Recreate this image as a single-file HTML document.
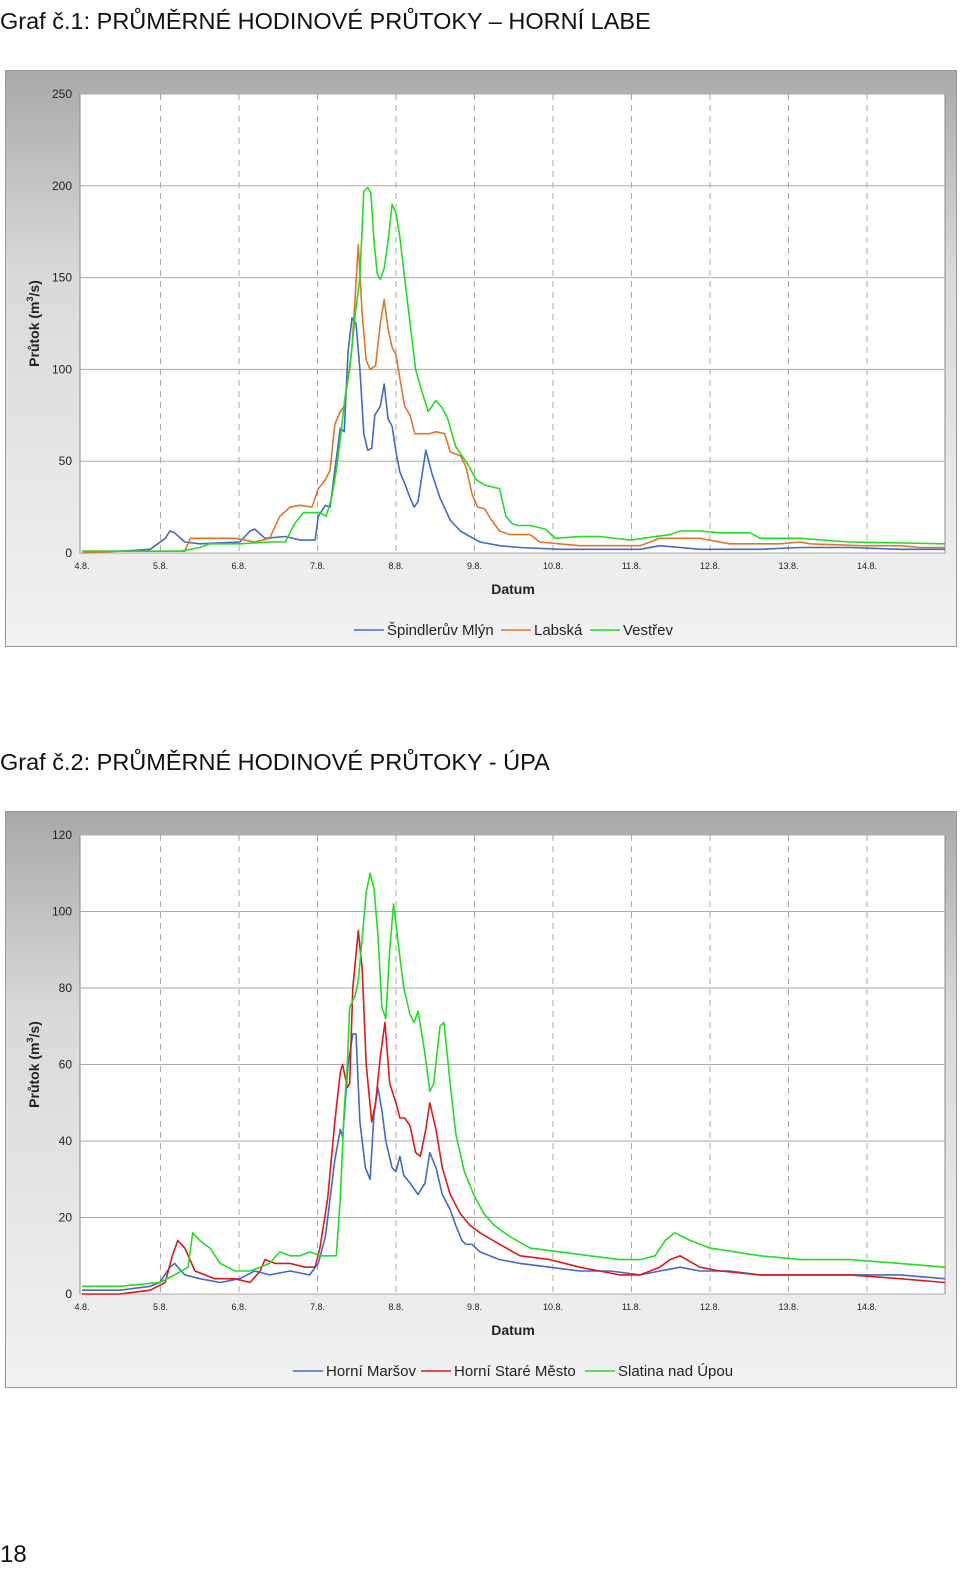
<!DOCTYPE html>
<html><head><meta charset="utf-8"><style>
body{margin:0;background:#fff;width:960px;height:1565px;overflow:hidden;font-family:"Liberation Sans",sans-serif}
</style></head><body>
<svg id="svg" width="960" height="1565" xmlns="http://www.w3.org/2000/svg">
<defs>
<linearGradient id="bg" x1="0" y1="0" x2="0" y2="1"><stop offset="0" stop-color="#a9a9a9"/><stop offset="0.35" stop-color="#d9d9d9"/><stop offset="1" stop-color="#f2f2f2"/></linearGradient>
</defs>
<text x="0" y="29" font-size="23.5" fill="#111">Graf č.1: PRŮMĚRNÉ HODINOVÉ PRŮTOKY – HORNÍ LABE</text>
<text x="0" y="770" font-size="23.5" fill="#111">Graf č.2: PRŮMĚRNÉ HODINOVÉ PRŮTOKY - ÚPA</text>
<text x="0" y="1562" font-size="24" fill="#111">18</text>
<g id="c1"></g>
<g id="c2"></g>
</svg>
<script>
const dayLabels=["4.8.","5.8.","6.8.","7.8.","8.8.","9.8.","10.8.","11.8.","12.8.","13.8.","14.8."];
const ticks1=[0,50,100,150,200,250];
const ticks2=[0,20,40,60,80,100,120];
// chart 1 series: days since 4.8. and flow values
const spDays=[0,0.48,0.87,1.06,1.12,1.18,1.31,1.5,2.01,2.14,2.2,2.33,2.59,2.78,2.97,3.01,3.1,3.16,3.22,3.29,3.34,3.39,3.44,3.49,3.54,3.59,3.64,3.69,3.73,3.8,3.85,3.9,3.95,4.0,4.05,4.11,4.18,4.23,4.28,4.38,4.46,4.56,4.69,4.82,4.94,5.07,5.32,5.58,6.09,7.11,7.36,7.62,7.87,8.64,9.15,9.78,10.42,10.99];
const spVals=[1,1,2,8,12,11,6,5,6,12,13,8,9,7,7,20,26,25,45,68,66,110,128,125,100,65,56,57,75,80,92,73,69,55,44,38,30,25,28,56,43,30,18,12,9,6,4,3,2,2,4,3,2,2,3,3,2,2];
const laDays=[0,0.48,1.31,1.38,1.95,2.2,2.39,2.52,2.65,2.78,2.93,3.01,3.1,3.16,3.22,3.29,3.34,3.39,3.44,3.48,3.52,3.57,3.62,3.67,3.74,3.8,3.85,3.9,3.95,4.0,4.05,4.11,4.18,4.24,4.43,4.51,4.62,4.69,4.82,4.89,4.97,5.04,5.13,5.2,5.32,5.45,5.71,5.83,6.34,7.11,7.36,7.87,8.25,8.89,9.15,9.27,9.91,10.42,10.68,10.99];
const laVals=[0,1,1,8,8,6,8,20,25,26,25,35,40,45,70,77,80,95,112,140,168,130,105,100,102,125,138,122,112,108,95,80,75,65,65,66,65,55,53,47,32,25,24,19,12,10,10,6,4,4,8,8,5,5,6,5,4,4,3,3];
const veDays=[0,0.61,0.87,1.25,1.5,1.63,2.01,2.39,2.59,2.71,2.82,3.03,3.11,3.18,3.24,3.29,3.35,3.41,3.48,3.54,3.59,3.64,3.68,3.72,3.76,3.8,3.85,3.9,3.95,4.0,4.05,4.11,4.18,4.25,4.33,4.41,4.46,4.51,4.59,4.66,4.76,4.84,4.92,5.02,5.13,5.32,5.4,5.48,5.55,5.71,5.9,6.03,6.34,6.6,6.98,7.49,7.62,7.87,8.13,8.51,8.64,9.15,9.78,10.99];
const veVals=[1,1,1,1,3,5,5,6,6,16,22,22,20,30,45,62,85,100,130,150,197,199,196,170,152,149,155,170,190,185,172,150,125,100,88,77,80,83,79,73,58,53,48,40,37,35,20,16,15,15,13,8,9,9,7,10,12,12,11,11,8,8,6,5];
// chart 2 series
const hmDays=[0,0.48,0.87,0.99,1.12,1.18,1.31,1.5,1.76,2.01,2.2,2.39,2.65,2.9,3.01,3.1,3.16,3.22,3.29,3.32,3.39,3.45,3.49,3.54,3.61,3.67,3.72,3.77,3.82,3.87,3.95,4.0,4.05,4.1,4.18,4.28,4.37,4.43,4.51,4.59,4.69,4.76,4.84,4.89,4.97,5.07,5.32,5.58,5.96,6.34,6.73,7.11,7.36,7.62,7.87,8.25,8.64,9.15,9.78,10.42,10.99];
const hmVals=[1,1,2,3,7,8,5,4,3,4,6,5,6,5,8,15,25,35,43,41,60,68,68,45,33,30,47,54,48,40,33,32,36,31,29,26,29,37,33,26,22,18,14,13,13,11,9,8,7,6,6,5,6,7,6,6,5,5,5,5,4];
const hsDays=[0,0.48,0.87,1.06,1.15,1.22,1.31,1.44,1.69,1.95,2.14,2.27,2.33,2.46,2.65,2.84,2.97,3.03,3.13,3.22,3.29,3.32,3.38,3.41,3.45,3.52,3.57,3.62,3.69,3.74,3.8,3.86,3.92,4.0,4.05,4.11,4.18,4.25,4.31,4.38,4.43,4.51,4.59,4.69,4.82,4.94,5.07,5.32,5.58,5.96,6.34,6.85,7.11,7.36,7.49,7.62,7.87,8.13,8.64,9.15,9.78,10.42,10.99];
const hsVals=[0,0,1,3,10,14,12,6,4,4,3,6,9,8,8,7,7,12,25,45,58,60,54,55,80,95,85,60,45,50,62,71,55,50,46,46,44,37,36,43,50,43,33,26,21,18,16,13,10,9,7,5,5,7,9,10,7,6,5,5,5,4,3];
const slDays=[0,0.48,0.99,1.18,1.35,1.41,1.5,1.63,1.76,1.95,2.14,2.27,2.39,2.52,2.65,2.78,2.9,3.03,3.16,3.24,3.29,3.34,3.38,3.41,3.48,3.52,3.57,3.62,3.67,3.72,3.77,3.82,3.87,3.92,3.97,4.05,4.1,4.18,4.23,4.28,4.36,4.43,4.48,4.56,4.61,4.69,4.76,4.87,4.99,5.12,5.25,5.45,5.71,6.09,6.47,6.85,7.11,7.3,7.43,7.55,7.75,8.0,8.64,9.15,9.78,10.42,10.99];
const slVals=[2,2,3,5,7,16,14,12,8,6,6,7,8,11,10,10,11,10,10,10,25,48,60,75,78,82,93,105,110,106,94,75,72,90,102,88,80,73,71,74,64,53,55,70,71,55,42,32,26,21,18,15,12,11,10,9,9,10,14,16,14,12,10,9,9,8,7];

const NS="http://www.w3.org/2000/svg";
function el(p,t,a){const e=document.createElementNS(NS,t);for(const k in a)e.setAttribute(k,a[k]);p.appendChild(e);return e;}

function chart(g,top,ymax,ticks,series,legX){
  const L=80,R=945,T=top+24,B=top+483;
  const xs=d=>82+d*78.5;
  const ys=v=>B-(v/ymax)*(B-T);
  const bg=el(g,'rect',{x:5.5,y:top+0.5,width:951,height:576,fill:'url(#bg)',stroke:'#999'});
  
  
  const pa=el(g,'rect',{x:L,y:T,width:R-L,height:B-T,fill:'#fff',stroke:'#888'});
  
  
  ticks.forEach(v=>{
    const y=ys(v);
    const gl=el(g,'line',{x1:L,x2:R,y1:y,y2:y,stroke:'#aaa','stroke-width':1});
    
    
    const t=el(g,'text',{x:72,y:y+4,'font-size':12,'text-anchor':'end',fill:'#222'});
    t.textContent=v;
    
    
  });
  dayLabels.forEach((s,i)=>{
    const x=xs(i);
    if(i>0){const vl=el(g,'line',{x1:x,x2:x,y1:T,y2:B,stroke:'#aaa','stroke-dasharray':'6,5'});
      
      }
    const t=el(g,'text',{x:x,y:B+16,'font-size':9,'text-anchor':'middle',fill:'#222'});
    t.textContent=s;
    
    
  });
  const xt=el(g,'text',{x:513,y:B+41,'font-size':14,'font-weight':'bold','text-anchor':'middle',fill:'#222'});
  xt.textContent='Datum';
  
  
  const cy=(T+B)/2;
  const yt=el(g,'text',{x:0,y:0,'font-size':14,'font-weight':'bold','text-anchor':'middle',fill:'#222',transform:`translate(39,${cy}) rotate(-90)`});
  yt.innerHTML='Průtok (m<tspan font-size="9" dy="-6">3</tspan><tspan dy="6">/s)</tspan>';
  
  
  series.forEach(s=>{
    const d=s.days.map((v,i)=>(i?'L':'M')+xs(v).toFixed(1)+','+ys(s.vals[i]).toFixed(1)).join('');
    const p=el(g,'path',{d:d,fill:'none',stroke:s.color,'stroke-width':1.6,'stroke-linejoin':'round'});
    
    
  });
  const ly=top+560;
  series.forEach((s,i)=>{
    const x=legX[i];
    const lg=el(g,'g',{});
    
    
    el(lg,'line',{x1:x,x2:x+30,y1:ly,y2:ly,stroke:s.color,'stroke-width':1.6});
    const t=el(lg,'text',{x:x+33,y:ly+5,'font-size':15,fill:'#222'});
    t.textContent=s.label;
  });
}
chart(document.getElementById('c1'),70,250,ticks1,[
  {name:'line-spindleruv-mlyn',label:'Špindlerův Mlýn',color:'#4169c8',days:spDays,vals:spVals},
  {name:'line-labska',label:'Labská',color:'#e0752a',days:laDays,vals:laVals},
  {name:'line-vestrev',label:'Vestřev',color:'#22dd22',days:veDays,vals:veVals}
],[354,501,590]);
chart(document.getElementById('c2'),811,120,ticks2,[
  {name:'line-horni-marsov',label:'Horní Maršov',color:'#4169c8',days:hmDays,vals:hmVals},
  {name:'line-horni-stare-mesto',label:'Horní Staré Město',color:'#dd1a1a',days:hsDays,vals:hsVals},
  {name:'line-slatina-nad-upou',label:'Slatina nad Úpou',color:'#22dd22',days:slDays,vals:slVals}
],[293,421,585]);
</script>
</body></html>
